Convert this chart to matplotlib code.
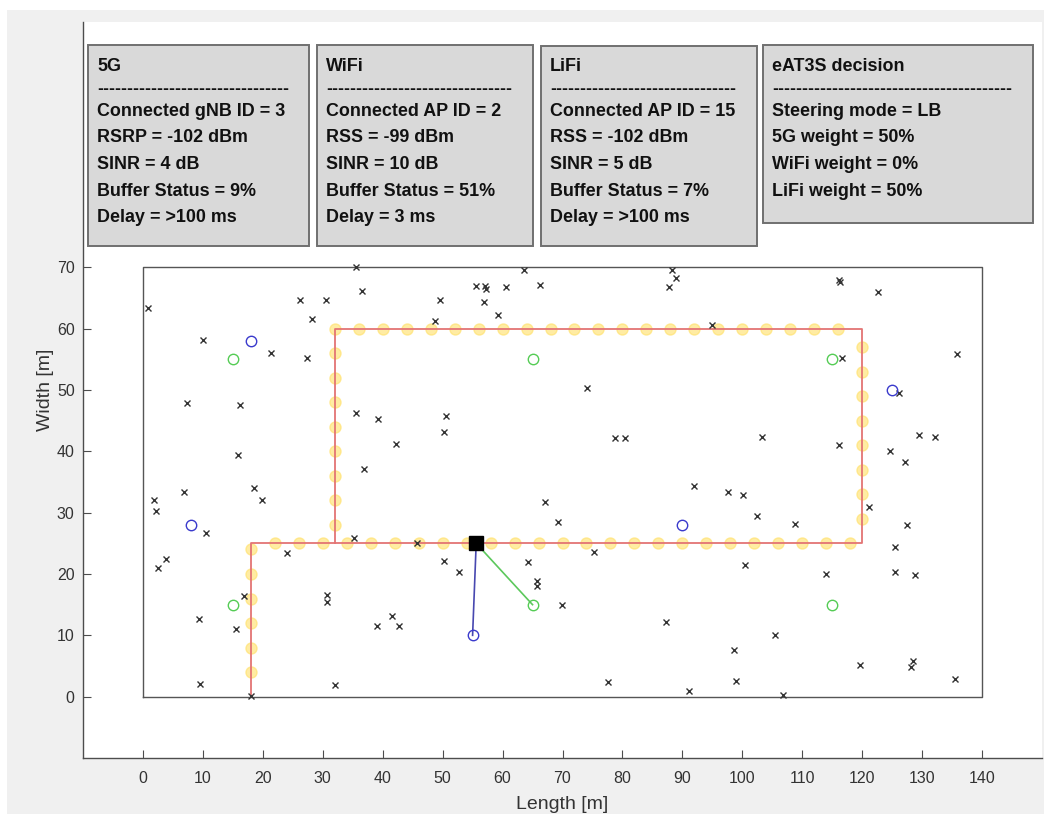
import matplotlib.pyplot as plt
from matplotlib.patches import Rectangle

plt.rcParams['font.family'] = ['Liberation Sans', 'DejaVu Sans']

# room outline and corridor (metres)
room_x = [0, 140, 140, 0, 0]
room_y = [0, 0, 70, 70, 0]
path_x = [18, 18, 120, 120, 32, 32]
path_y = [0, 25, 25, 60, 60, 25]

# 5G gNBs and WiFi APs
gnb_x = [8, 18, 55, 90, 125]
gnb_y = [28, 58, 10, 28, 50]
wifi_x = [15, 65, 115, 15, 65, 115]
wifi_y = [15, 15, 15, 55, 55, 55]

# LiFi APs along the corridor
lifi_x = [18, 18, 18, 18, 18, 18,
          22, 26, 30, 34, 38, 42, 46, 50, 54, 58, 62, 66, 70, 74, 78, 82, 86,
          90, 94, 98, 102, 106, 110, 114, 118,
          32, 32, 32, 32, 32, 32, 32, 32,
          32, 36, 40, 44, 48, 52, 56, 60, 64, 68, 72, 76, 80, 84, 88, 92, 96,
          100, 104, 108, 112, 116,
          120, 120, 120, 120, 120, 120, 120, 120]
lifi_y = [4, 8, 12, 16, 20, 24,
          25, 25, 25, 25, 25, 25, 25, 25, 25, 25, 25, 25, 25, 25, 25, 25, 25,
          25, 25, 25, 25, 25, 25, 25, 25,
          28, 32, 36, 40, 44, 48, 52, 56,
          60, 60, 60, 60, 60, 60, 60, 60, 60, 60, 60, 60, 60, 60, 60, 60, 60,
          60, 60, 60, 60, 60,
          29, 33, 37, 41, 45, 49, 53, 57]

# other users in the room
ue_x = [0.8, 35.5, 36.5, 26.2, 30.5, 28.2, 10.0, 21.3, 27.3, 7.4, 16.2, 35.6,
        39.2, 42.3, 15.8, 36.9, 6.8, 1.8, 18.5, 19.9, 2.1, 10.6, 35.2, 63.6,
        55.5, 57.1, 57.3, 60.6, 66.3, 49.6, 56.9, 59.2, 48.8, 88.3, 89.0, 87.7,
        94.9, 74.1, 50.6, 50.2, 78.8, 80.5, 103.3, 91.9, 97.6, 100.1, 67.0,
        69.3, 102.4, 45.8, 116.2, 116.3, 122.7, 116.6, 135.9, 126.2, 116.2,
        129.5, 132.1, 124.6, 127.1, 108.8, 121.1, 127.4, 125.5, 2.5, 3.8, 24.1,
        16.8, 30.7, 30.7, 9.3, 15.6, 39.1, 41.6, 42.8, 9.5, 32.0, 18.0, 50.2,
        52.8, 64.2, 65.7, 65.7, 75.3, 69.9, 87.2, 100.5, 105.5, 98.6, 77.6,
        99.0, 91.1, 114.0, 125.5, 128.8, 106.8, 119.7, 128.4, 128.2, 135.5]
ue_y = [63.3, 70.0, 66.2, 64.6, 64.6, 61.5, 58.1, 56.1, 55.2, 47.9, 47.5, 46.2,
        45.3, 41.2, 39.4, 37.2, 33.3, 32.1, 34.1, 32.1, 30.2, 26.7, 25.8, 69.6,
        67.0, 66.9, 66.5, 66.8, 67.2, 64.6, 64.4, 62.3, 61.2, 69.5, 68.3, 66.8,
        60.6, 50.3, 45.7, 43.2, 42.2, 42.2, 42.4, 34.4, 33.3, 32.8, 31.7,
        28.5, 29.5, 25.0, 67.9, 67.6, 66.0, 55.2, 55.8, 49.5, 41.1,
        42.6, 42.4, 40.0, 38.2, 28.2, 30.9, 28.0, 24.4, 21.0, 22.5, 23.4,
        16.4, 16.5, 15.5, 12.6, 11.0, 11.6, 13.1, 11.6, 2.1, 1.9, 0.1, 22.1,
        20.3, 21.9, 18.8, 18.1, 23.6, 14.9, 12.2, 21.4, 10.0, 7.6, 2.4,
        2.6, 1.0, 20.0, 20.4, 19.9, 0.2, 5.1, 5.8, 4.8, 2.9]

# tracked user and its state
user_x, user_y = 55.6, 25
gnb_id = 3
rsrp_5g, sinr_5g, buffer_5g, delay_5g = -102, 4, 9, '>100'
wifi_id = 2
rss_wifi, sinr_wifi, buffer_wifi, delay_wifi = -99, 10, 51, '3'
lifi_id = 15
rss_lifi, sinr_lifi, buffer_lifi, delay_lifi = -102, 5, 7, '>100'
steering_mode = 'LB'
weight_5g, weight_wifi, weight_lifi = 50, 0, 50

W, H = 1044, 814
fig = plt.figure(figsize=(W / 100, H / 100), dpi=100, facecolor='white')
fig.patches.append(Rectangle((7 / W, 0), 1 - 7 / W, 1 - 10 / H,
                             transform=fig.transFigure, facecolor='#f0f0f0',
                             edgecolor='none', zorder=-1))

ax = fig.add_axes([83 / W, 1 - 758 / H, (1042 - 83) / W, (758 - 22) / H])
ax.set_xlim(-10, 150)
ax.set_ylim(-10, 110)

ax.plot(room_x, room_y, color='#555555', lw=1.0)
ax.plot(lifi_x, lifi_y, 'o', ms=8, mfc='#ffe066', mec='#ffe066',
        alpha=0.6, zorder=2)
ax.plot(path_x, path_y, color='#e37474', lw=1.3, zorder=3)
ax.plot(ue_x, ue_y, 'x', color='#333333', ms=5, mew=1.0, zorder=4)
ax.plot([user_x, gnb_x[gnb_id - 1]], [user_y, gnb_y[gnb_id - 1]],
        color='#4848b0', lw=1.2, zorder=4)
ax.plot([user_x, wifi_x[wifi_id - 1]], [user_y, wifi_y[wifi_id - 1]],
        color='#5cc85c', lw=1.2, zorder=4)
ax.plot(gnb_x, gnb_y, 'o', ms=7.5, mfc='none', mec='#3a3acc', mew=1.0,
        zorder=5)
ax.plot(wifi_x, wifi_y, 'o', ms=7.5, mfc='none', mec='#55cc55', mew=1.0,
        zorder=5)
ax.plot(user_x, user_y, 's', color='black', ms=10, zorder=6)

for side in ['top', 'right']:
    ax.spines[side].set_visible(False)
for side in ['left', 'bottom']:
    ax.spines[side].set_color('#4d4d4d')
    ax.spines[side].set_linewidth(1.0)
ax.set_xticks(range(0, 141, 10))
ax.set_yticks(range(0, 71, 10))
ax.tick_params(direction='in', length=6, width=0.8, color='#4d4d4d',
               labelcolor='#333333', labelsize=11.5)
ax.tick_params(axis='x', pad=9.5)
ax.tick_params(axis='y', pad=6)
ax.set_xlabel('Length [m]', fontsize=14, color='#333333')
ax.set_ylabel('Width [m]', fontsize=14, color='#333333')
ax.xaxis.set_label_coords(0.5, -0.052)
ax.yaxis.set_label_coords(-0.030, 0.5)

# status panels
panels = [
    ((88, 45, 309, 246), ['5G', '-' * 32,
                          f'Connected gNB ID = {gnb_id}',
                          f'RSRP = {rsrp_5g} dBm',
                          f'SINR = {sinr_5g} dB',
                          f'Buffer Status = {buffer_5g}%',
                          f'Delay = {delay_5g} ms']),
    ((317, 45, 533, 246), ['WiFi', '-' * 31,
                           f'Connected AP ID = {wifi_id}',
                           f'RSS = {rss_wifi} dBm',
                           f'SINR = {sinr_wifi} dB',
                           f'Buffer Status = {buffer_wifi}%',
                           f'Delay = {delay_wifi} ms']),
    ((541, 46, 757, 246), ['LiFi', '-' * 31,
                           f'Connected AP ID = {lifi_id}',
                           f'RSS = {rss_lifi} dBm',
                           f'SINR = {sinr_lifi} dB',
                           f'Buffer Status = {buffer_lifi}%',
                           f'Delay = {delay_lifi} ms']),
    ((763, 45, 1033, 223), ['eAT3S decision', '-' * 40,
                            f'Steering mode = {steering_mode}',
                            f'5G weight = {weight_5g}%',
                            f'WiFi weight = {weight_wifi}%',
                            f'LiFi weight = {weight_lifi}%']),
]
baselines = [70.7, 93.5, 116, 142.5, 169, 196, 222.5]

for (x0, y0, x1, y1), lines in panels:
    fig.patches.append(Rectangle((x0 / W, 1 - y1 / H), (x1 - x0) / W,
                                 (y1 - y0) / H, transform=fig.transFigure,
                                 facecolor='#d9d9d9', edgecolor='#707070',
                                 lw=1.4, zorder=5))
    for line, b in zip(lines, baselines):
        fig.text((x0 + 9) / W, 1 - b / H, line, fontsize=12.9,
                 fontweight='bold', color='#111111', va='baseline',
                 zorder=6)

fig.savefig('out.png', dpi=100, facecolor=fig.get_facecolor())
